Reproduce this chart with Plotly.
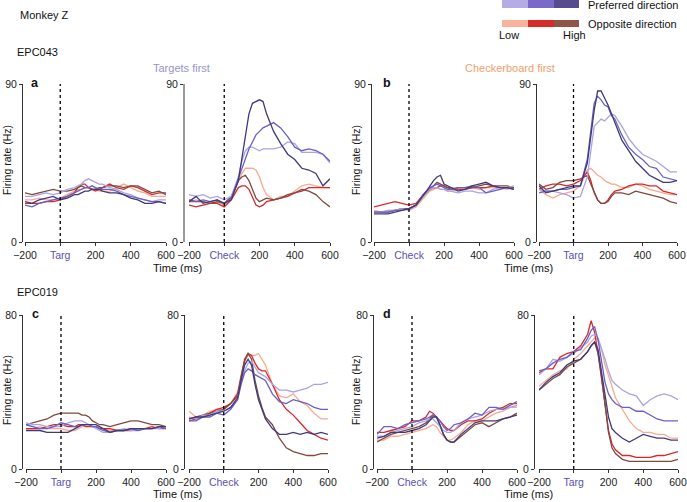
import plotly.graph_objects as go

# ---------------- data (firing rate, Hz) ----------------
T_MS = [-200, -160, -120, -80, -40, 0, 40, 80, 100, 120, 140, 160, 180, 200, 220, 240,
        280, 320, 360, 400, 440, 480, 520, 560, 600]

# EPC043, Targets first, aligned to Targ
A1_PL = [26,26,27,28,27,28,30,31,32,33,35,36,35,34,33,33,31,30,28,27,25,24,23,24,24]
A1_PM = [21,20,22,23,24,25,26,28,29,30,31,31,32,31,30,30,30,29,27,26,25,24,23,23,22]
A1_PH = [23,22,24,25,26,24,25,27,27,28,29,29,30,30,30,29,28,28,27,25,24,22,22,23,22]
A1_OL = [24,24,25,24,24,25,27,29,30,30,31,31,30,30,29,29,29,31,33,31,29,28,26,26,26]
A1_OM = [22,22,22,23,23,24,26,28,31,33,33,31,30,29,30,31,33,31,30,32,31,29,27,28,28]
A1_OH = [28,27,28,29,30,29,29,30,31,32,31,31,30,30,31,31,32,32,31,32,32,30,28,29,27]
# EPC043, Targets first, aligned to Check
A2_PL = [27,26,27,25,26,24,26,37,46,52,54,54,53,52,53,53,53,54,57,56,51,51,51,50,45]
A2_PM = [23,23,24,23,24,22,25,36,42,48,53,57,61,63,65,66,68,65,60,54,52,53,52,50,46]
A2_PH = [23,26,22,23,24,22,24,35,47,60,73,79,80,81,80,73,63,56,50,47,42,41,39,32,36]
A2_OL = [23,24,23,22,23,21,25,35,39,42,42,42,41,37,31,27,24,26,26,29,32,33,32,31,31]
A2_OM = [21,20,21,22,22,20,24,31,32,32,30,25,21,20,21,23,24,25,26,28,29,31,31,31,31]
A2_OH = [24,23,23,22,23,22,26,35,37,38,35,30,25,23,24,25,24,25,27,28,30,29,27,23,20]
# EPC043, Checkerboard first, aligned to Check
B1_PL = [17,17,18,18,19,18,21,26,28,30,31,31,30,30,29,29,28,29,29,28,28,30,31,31,32]
B1_PM = [17,17,17,18,18,19,21,27,29,31,32,33,32,31,30,30,31,31,32,31,28,29,30,31,30]
B1_PH = [16,16,16,17,18,19,21,26,29,32,35,37,38,33,32,31,29,30,32,33,34,32,31,31,30]
B1_OL = [18,17,18,18,19,18,20,25,27,29,30,31,30,30,29,29,30,30,31,30,31,31,31,30,31]
B1_OM = [20,21,22,23,22,21,22,27,29,30,31,31,32,32,31,31,30,30,31,31,31,32,31,31,31]
B1_OH = [17,17,17,18,19,19,21,26,28,30,32,34,33,32,31,30,31,31,31,32,33,32,32,32,31]
# EPC043, Checkerboard first, aligned to Targ
B2_PL = [30,29,29,28,27,25,26,37,52,66,68,70,69,71,73,72,66,59,54,50,48,46,43,40,40]
B2_PM = [28,29,29,30,30,31,32,47,62,79,83,81,78,77,72,70,61,54,50,47,43,42,37,36,35]
B2_PH = [32,28,29,30,31,32,32,45,60,75,86,86,82,78,73,68,58,52,46,42,38,36,34,34,35]
B2_OL = [30,27,25,27,28,29,32,41,42,40,38,37,35,34,33,33,31,31,33,32,30,29,28,27,27]
B2_OM = [30,32,33,33,32,33,35,40,35,28,24,22,22,24,27,29,30,32,33,33,32,32,29,28,27]
B2_OH = [33,30,31,34,35,35,36,38,33,28,24,22,22,23,26,28,28,27,29,28,27,26,25,23,22]
# EPC019, Targets first, aligned to Targ
C1_PL = [24,23,23,22,22,22,24,25,25,25,24,23,22,21,20,19,19,20,21,20,20,21,21,21,22]
C1_PM = [23,22,21,21,22,24,23,22,22,23,23,23,22,22,21,20,19,20,20,21,20,21,21,22,21]
C1_PH = [20,20,20,19,19,19,19,21,22,23,23,23,23,23,22,21,19,20,20,21,21,21,21,22,22]
C1_OL = [21,21,22,21,21,21,20,20,21,22,23,23,22,22,21,21,20,20,20,21,21,21,21,22,22]
C1_OM = [21,21,21,22,23,23,22,22,23,23,22,22,22,22,21,21,21,20,20,20,21,21,22,21,21]
C1_OH = [23,24,25,26,28,29,29,29,29,28,28,27,25,24,23,23,22,23,24,25,25,24,23,23,22]
# EPC019, Targets first, aligned to Check
C2_PL = [27,26,28,28,30,30,32,37,45,51,55,56,53,50,49,48,44,41,41,40,41,42,44,44,45]
C2_PM = [25,25,27,27,29,28,31,36,44,50,52,51,49,48,47,46,39,35,34,36,35,34,32,31,31]
C2_PH = [26,27,27,28,29,30,32,37,46,54,57,54,44,36,31,26,21,18,18,19,18,19,18,19,18]
C2_OL = [30,27,28,30,31,31,34,40,49,56,59,59,59,60,57,54,44,38,37,39,35,33,29,26,26]
C2_OM = [25,26,27,29,31,32,34,39,48,56,60,59,55,52,51,51,44,36,31,28,24,20,18,16,15]
C2_OH = [26,27,28,29,30,31,34,38,48,57,60,57,46,38,32,27,23,16,11,9,8,7,7,8,8]
# EPC019, Checkerboard first, aligned to Check
D1_PL = [17,17,19,20,21,22,24,25,26,26,24,22,20,19,19,20,24,26,27,28,30,31,31,32,33]
D1_PM = [18,22,22,21,23,24,25,26,27,28,27,25,22,20,21,23,24,26,29,28,32,32,31,33,35]
D1_PH = [16,17,19,19,19,20,21,23,25,27,27,23,18,15,14,14,18,21,24,25,25,25,26,27,28]
D1_OL = [15,15,17,17,18,19,20,21,22,23,22,19,17,15,15,16,19,23,25,25,27,29,30,32,32]
D1_OM = [19,19,20,21,22,25,25,27,30,29,27,25,23,21,20,20,23,25,25,26,29,31,32,34,34]
D1_OH = [14,16,18,19,20,21,22,24,26,28,27,22,18,15,14,14,17,20,23,24,22,24,26,27,29]
# EPC019, Checkerboard first, aligned to Targ
D2_PL = [49,52,57,56,58,60,63,66,69,70,68,63,57,51,46,44,41,39,38,33,36,38,39,38,36]
D2_PM = [51,52,55,57,58,61,62,68,72,74,67,55,45,39,36,34,32,32,30,30,28,26,25,25,25]
D2_PH = [41,45,48,50,54,56,57,61,64,66,62,51,38,27,21,19,16,14,16,18,17,16,16,15,15]
D2_OL = [43,46,49,51,52,57,60,64,66,68,67,62,54,49,43,37,31,25,21,19,19,18,18,16,16]
D2_OM = [50,52,52,58,60,61,64,70,77,71,60,48,34,20,13,10,7,7,6,6,6,7,7,8,9]
D2_OH = [41,44,47,49,53,55,57,61,64,66,60,48,32,19,11,8,5,4,4,4,4,4,4,4,5]

X_TICKS = [-200, 0, 200, 400, 600]
EVENT_LABELS = ["Targ", "Check", "Check", "Targ", "Targ", "Check", "Check", "Targ"]
Y_MAX = [90, 90, 90, 90, 80, 80, 80, 80]

# ---------------- styling ----------------
W, H = 687, 502
FONT = "Liberation Sans, Arial, Helvetica, sans-serif"
EV_COLOR = "#5b50b2"
COL = {"OL": "#f6ab90", "OM": "#d7282a", "OH": "#7e4a3f",
       "PL": "#aaa5e2", "PM": "#6b5fc6", "PH": "#3f3a7a"}


def px(x):
    return x / W


def py(y):
    return 1 - y / H


# pixel boxes: (x-left, x-right, y-top, y-bottom, y-axis x)
BOXES = [
    (25, 166, 84, 242, 22), (189, 330, 84, 242, 184),
    (374, 514, 84, 242, 371), (539, 677, 84, 242, 536),
    (26, 166, 315, 469, 22), (189, 328, 315, 469, 184),
    (377, 517, 315, 469, 373), (539, 678, 315, 469, 534),
]

PANEL_DATA = [
    (A1_OL, A1_OM, A1_OH, A1_PL, A1_PM, A1_PH),
    (A2_OL, A2_OM, A2_OH, A2_PL, A2_PM, A2_PH),
    (B1_OL, B1_OM, B1_OH, B1_PL, B1_PM, B1_PH),
    (B2_OL, B2_OM, B2_OH, B2_PL, B2_PM, B2_PH),
    (C1_OL, C1_OM, C1_OH, C1_PL, C1_PM, C1_PH),
    (C2_OL, C2_OM, C2_OH, C2_PL, C2_PM, C2_PH),
    (D1_OL, D1_OM, D1_OH, D1_PL, D1_PM, D1_PH),
    (D2_OL, D2_OM, D2_OH, D2_PL, D2_PM, D2_PH),
]
KEYS = ["OL", "OM", "OH", "PL", "PM", "PH"]

fig = go.Figure()
layout = {}
shapes = []

for i, (box, series) in enumerate(zip(BOXES, PANEL_DATA)):
    n = "" if i == 0 else str(i + 1)
    x0, x1, yt, yb, yax = box
    for key, vals in zip(KEYS, series):
        fig.add_trace(go.Scatter(
            x=T_MS, y=vals, mode="lines", xaxis="x" + n, yaxis="y" + n,
            line=dict(color=COL[key], width=1.3), showlegend=False,
            hoverinfo="skip"))
    ticktext = ["\u2212200",
                "<span style='color:%s'>%s</span>" % (EV_COLOR, EVENT_LABELS[i]),
                "200", "400", "600"]
    layout["xaxis" + n] = dict(
        domain=[px(x0), px(x1)], range=[-200, 600], anchor="y" + n,
        tickvals=X_TICKS, ticktext=ticktext, ticks="outside", ticklen=3,
        tickcolor="#333", showline=True, linecolor="#333", linewidth=1,
        showgrid=False, zeroline=False, tickfont=dict(size=10.5, color="#222"),
        automargin=False, fixedrange=True)
    ycol = "#9a9a9a" if i == 1 else "#333"
    ywid = 2 if i == 1 else 1
    layout["yaxis" + n] = dict(
        domain=[py(yb), py(yt)], range=[0, Y_MAX[i]], anchor="free",
        position=px(yax), tickvals=[0, Y_MAX[i]], ticks="outside", ticklen=3,
        tickcolor="#333", showline=True, linecolor=ycol, linewidth=ywid,
        showgrid=False, zeroline=False, tickfont=dict(size=10.5, color="#222"),
        automargin=False, fixedrange=True)
    shapes.append(dict(type="line", xref="x" + n, yref="y" + n, x0=0, x1=0,
                       y0=0, y1=Y_MAX[i], line=dict(color="black", width=1.3, dash="dot")))

# legend colour bars
PREF_BAR = ["#b5ace6", "#7b69c9", "#554b8e"]
OPP_BAR = ["#f9b39c", "#d92c27", "#8f5546"]
segs = [(502, 528), (528, 554), (554, 579)]
for (a, b), c in zip(segs, PREF_BAR):
    shapes.append(dict(type="rect", xref="paper", yref="paper", x0=px(a), x1=px(b),
                       y0=py(8), y1=py(0), fillcolor=c, line=dict(width=0)))
for (a, b), c in zip(segs, OPP_BAR):
    shapes.append(dict(type="rect", xref="paper", yref="paper", x0=px(a), x1=px(b),
                       y0=py(27), y1=py(20), fillcolor=c, line=dict(width=0)))

ann = []


def text(x, y, s, size=11, color="#111", xanchor="left", bold=False, angle=0):
    ann.append(dict(x=px(x), y=py(y), xref="paper", yref="paper",
                    text="<b>%s</b>" % s if bold else s, showarrow=False,
                    xanchor=xanchor, yanchor="middle", textangle=angle,
                    font=dict(size=size, color=color, family=FONT)))


text(18, 15, "Monkey Z")
text(15, 52, "EPC043")
text(15, 292, "EPC019")
text(181, 68, "Targets first", color="#9a93c8", xanchor="center")
text(510, 68, "Checkerboard first", color="#f2a06c", xanchor="center")
text(29, 83, "a", size=12.5, bold=True)
text(381, 83, "b", size=12.5, bold=True)
text(30, 314, "c", size=12.5, bold=True)
text(381, 314, "d", size=12.5, bold=True)
for (x, y) in [(177, 268), (528, 268), (177, 494), (528, 494)]:
    text(x, y, "Time (ms)", size=11, xanchor="center")
for (x, y) in [(7, 160), (356, 160), (7, 390), (356, 390)]:
    text(x, y, "Firing rate (Hz)", size=10.5, xanchor="center", angle=-90)
text(586, 5, "Preferred direction")
text(586, 24, "Opposite direction")
text(509, 35, "Low", xanchor="center")
text(574, 35, "High", xanchor="center")

fig.update_layout(
    template="none",
    width=W, height=H, margin=dict(l=0, r=0, t=0, b=0, autoexpand=False),
    paper_bgcolor="white", plot_bgcolor="white",
    font=dict(family=FONT, size=11, color="#222"),
    shapes=shapes, annotations=ann, **layout)

fig.write_html("out.html", config={"displayModeBar": False},
               post_script="document.body.style.margin='0';document.body.style.padding='0';"
                           "document.body.style.overflow='hidden';")
